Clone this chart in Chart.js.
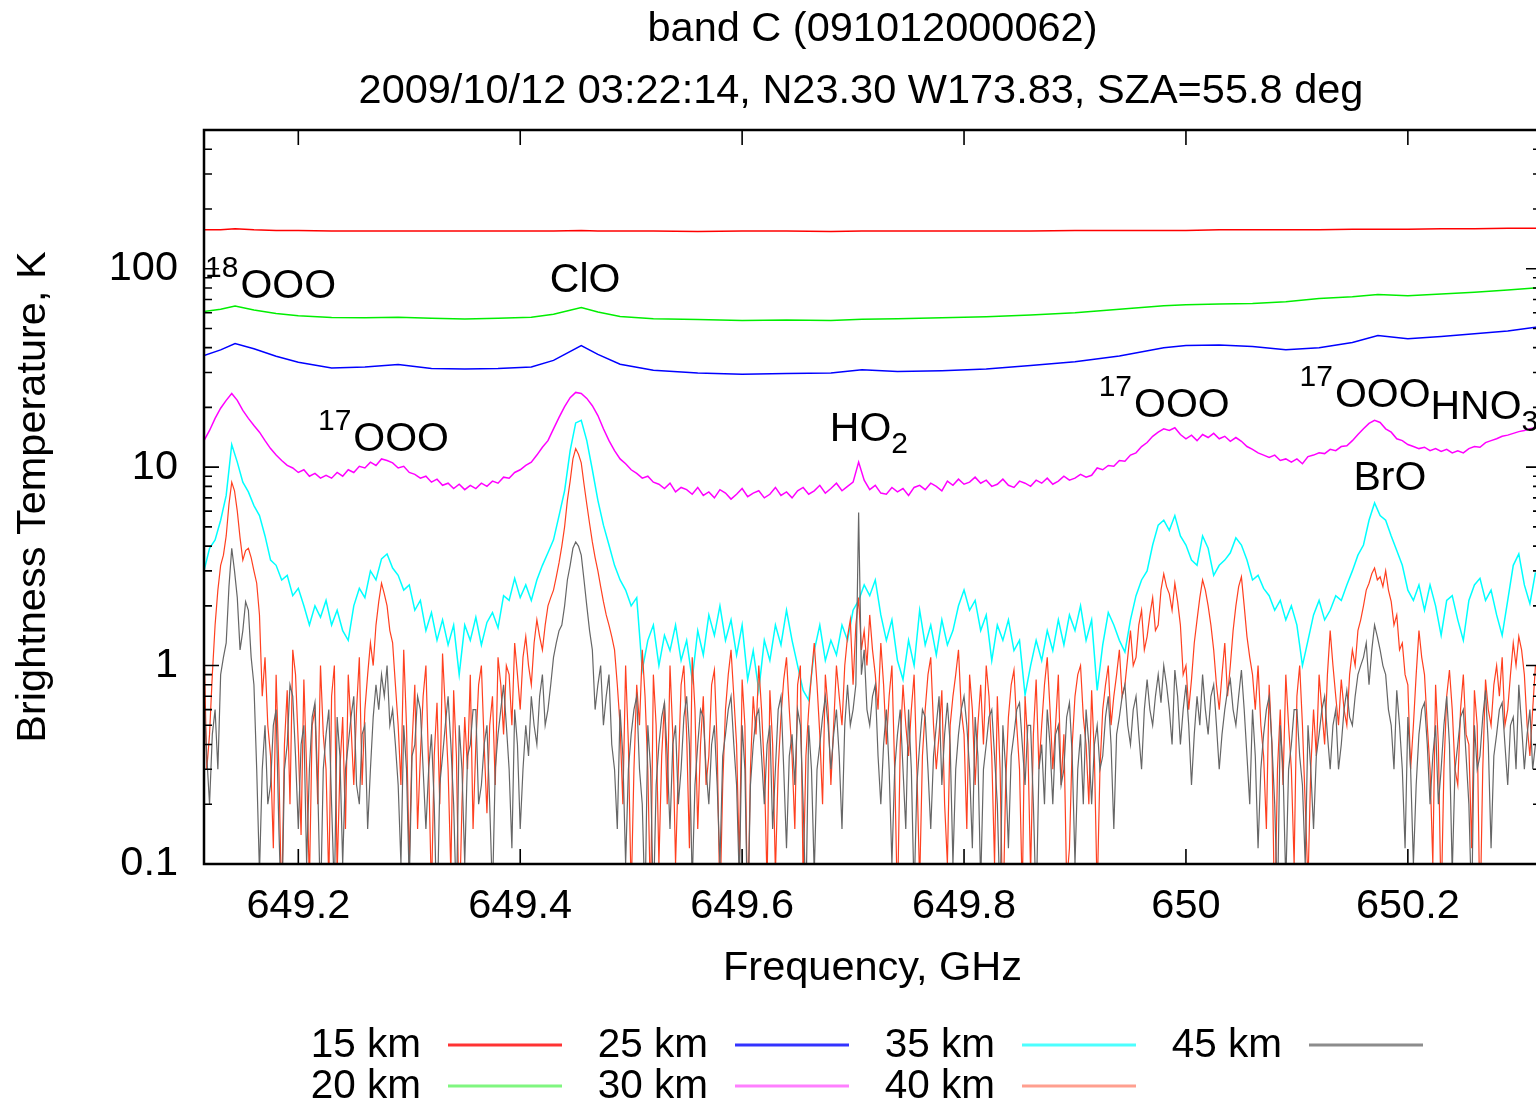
<!DOCTYPE html>
<html>
<head>
<meta charset="utf-8">
<script src="https://cdn.jsdelivr.net/npm/chart.js@4.4.1/dist/chart.umd.min.js"></script>
<style>
  html, body { margin: 0; padding: 0; background: #fff; overflow: hidden; }
  canvas { display: block; }
</style>
</head>
<body>
<canvas id="myChart" width="1545" height="1102"></canvas>
<script>
// frequency channels (GHz), 5 MHz spacing
const freqFine = [
  649.115,649.120,649.125,649.130,649.135,649.140,649.145,649.150,649.155,649.160,
  649.165,649.170,649.175,649.180,649.185,649.190,649.195,649.200,649.205,649.210,
  649.215,649.220,649.225,649.230,649.235,649.240,649.245,649.250,649.255,649.260,
  649.265,649.270,649.275,649.280,649.285,649.290,649.295,649.300,649.305,649.310,
  649.315,649.320,649.325,649.330,649.335,649.340,649.345,649.350,649.355,649.360,
  649.365,649.370,649.375,649.380,649.385,649.390,649.395,649.400,649.405,649.410,
  649.415,649.420,649.425,649.430,649.435,649.440,649.445,649.450,649.455,649.460,
  649.465,649.470,649.475,649.480,649.485,649.490,649.495,649.500,649.505,649.510,
  649.515,649.520,649.525,649.530,649.535,649.540,649.545,649.550,649.555,649.560,
  649.565,649.570,649.575,649.580,649.585,649.590,649.595,649.600,649.605,649.610,
  649.615,649.620,649.625,649.630,649.635,649.640,649.645,649.650,649.655,649.660,
  649.665,649.670,649.675,649.680,649.685,649.690,649.695,649.700,649.705,649.710,
  649.715,649.720,649.725,649.730,649.735,649.740,649.745,649.750,649.755,649.760,
  649.765,649.770,649.775,649.780,649.785,649.790,649.795,649.800,649.805,649.810,
  649.815,649.820,649.825,649.830,649.835,649.840,649.845,649.850,649.855,649.860,
  649.865,649.870,649.875,649.880,649.885,649.890,649.895,649.900,649.905,649.910,
  649.915,649.920,649.925,649.930,649.935,649.940,649.945,649.950,649.955,649.960,
  649.965,649.970,649.975,649.980,649.985,649.990,649.995,650.000,650.005,650.010,
  650.015,650.020,650.025,650.030,650.035,650.040,650.045,650.050,650.055,650.060,
  650.065,650.070,650.075,650.080,650.085,650.090,650.095,650.100,650.105,650.110,
  650.115,650.120,650.125,650.130,650.135,650.140,650.145,650.150,650.155,650.160,
  650.165,650.170,650.175,650.180,650.185,650.190,650.195,650.200,650.205,650.210,
  650.215,650.220,650.225,650.230,650.235,650.240,650.245,650.250,650.255,650.260,
  650.265,650.270,650.275,650.280,650.285,650.290,650.295,650.300,650.305,650.310,
  650.315
];

// frequency channels (GHz), 2.5 MHz spacing, for the noisiest spectra
const freqHalf = [
  649.1150,649.1175,649.1200,649.1225,649.1250,649.1275,649.1300,649.1325,649.1350,649.1375,649.1400,649.1425,649.1450,649.1475,649.1500,649.1525,649.1550,649.1575,649.1600,649.1625,
  649.1650,649.1675,649.1700,649.1725,649.1750,649.1775,649.1800,649.1825,649.1850,649.1875,649.1900,649.1925,649.1950,649.1975,649.2000,649.2025,649.2050,649.2075,649.2100,649.2125,
  649.2150,649.2175,649.2200,649.2225,649.2250,649.2275,649.2300,649.2325,649.2350,649.2375,649.2400,649.2425,649.2450,649.2475,649.2500,649.2525,649.2550,649.2575,649.2600,649.2625,
  649.2650,649.2675,649.2700,649.2725,649.2750,649.2775,649.2800,649.2825,649.2850,649.2875,649.2900,649.2925,649.2950,649.2975,649.3000,649.3025,649.3050,649.3075,649.3100,649.3125,
  649.3150,649.3175,649.3200,649.3225,649.3250,649.3275,649.3300,649.3325,649.3350,649.3375,649.3400,649.3425,649.3450,649.3475,649.3500,649.3525,649.3550,649.3575,649.3600,649.3625,
  649.3650,649.3675,649.3700,649.3725,649.3750,649.3775,649.3800,649.3825,649.3850,649.3875,649.3900,649.3925,649.3950,649.3975,649.4000,649.4025,649.4050,649.4075,649.4100,649.4125,
  649.4150,649.4175,649.4200,649.4225,649.4250,649.4275,649.4300,649.4325,649.4350,649.4375,649.4400,649.4425,649.4450,649.4475,649.4500,649.4525,649.4550,649.4575,649.4600,649.4625,
  649.4650,649.4675,649.4700,649.4725,649.4750,649.4775,649.4800,649.4825,649.4850,649.4875,649.4900,649.4925,649.4950,649.4975,649.5000,649.5025,649.5050,649.5075,649.5100,649.5125,
  649.5150,649.5175,649.5200,649.5225,649.5250,649.5275,649.5300,649.5325,649.5350,649.5375,649.5400,649.5425,649.5450,649.5475,649.5500,649.5525,649.5550,649.5575,649.5600,649.5625,
  649.5650,649.5675,649.5700,649.5725,649.5750,649.5775,649.5800,649.5825,649.5850,649.5875,649.5900,649.5925,649.5950,649.5975,649.6000,649.6025,649.6050,649.6075,649.6100,649.6125,
  649.6150,649.6175,649.6200,649.6225,649.6250,649.6275,649.6300,649.6325,649.6350,649.6375,649.6400,649.6425,649.6450,649.6475,649.6500,649.6525,649.6550,649.6575,649.6600,649.6625,
  649.6650,649.6675,649.6700,649.6725,649.6750,649.6775,649.6800,649.6825,649.6850,649.6875,649.6900,649.6925,649.6950,649.6975,649.7000,649.7025,649.7050,649.7075,649.7100,649.7125,
  649.7150,649.7175,649.7200,649.7225,649.7250,649.7275,649.7300,649.7325,649.7350,649.7375,649.7400,649.7425,649.7450,649.7475,649.7500,649.7525,649.7550,649.7575,649.7600,649.7625,
  649.7650,649.7675,649.7700,649.7725,649.7750,649.7775,649.7800,649.7825,649.7850,649.7875,649.7900,649.7925,649.7950,649.7975,649.8000,649.8025,649.8050,649.8075,649.8100,649.8125,
  649.8150,649.8175,649.8200,649.8225,649.8250,649.8275,649.8300,649.8325,649.8350,649.8375,649.8400,649.8425,649.8450,649.8475,649.8500,649.8525,649.8550,649.8575,649.8600,649.8625,
  649.8650,649.8675,649.8700,649.8725,649.8750,649.8775,649.8800,649.8825,649.8850,649.8875,649.8900,649.8925,649.8950,649.8975,649.9000,649.9025,649.9050,649.9075,649.9100,649.9125,
  649.9150,649.9175,649.9200,649.9225,649.9250,649.9275,649.9300,649.9325,649.9350,649.9375,649.9400,649.9425,649.9450,649.9475,649.9500,649.9525,649.9550,649.9575,649.9600,649.9625,
  649.9650,649.9675,649.9700,649.9725,649.9750,649.9775,649.9800,649.9825,649.9850,649.9875,649.9900,649.9925,649.9950,649.9975,650.0000,650.0025,650.0050,650.0075,650.0100,650.0125,
  650.0150,650.0175,650.0200,650.0225,650.0250,650.0275,650.0300,650.0325,650.0350,650.0375,650.0400,650.0425,650.0450,650.0475,650.0500,650.0525,650.0550,650.0575,650.0600,650.0625,
  650.0650,650.0675,650.0700,650.0725,650.0750,650.0775,650.0800,650.0825,650.0850,650.0875,650.0900,650.0925,650.0950,650.0975,650.1000,650.1025,650.1050,650.1075,650.1100,650.1125,
  650.1150,650.1175,650.1200,650.1225,650.1250,650.1275,650.1300,650.1325,650.1350,650.1375,650.1400,650.1425,650.1450,650.1475,650.1500,650.1525,650.1550,650.1575,650.1600,650.1625,
  650.1650,650.1675,650.1700,650.1725,650.1750,650.1775,650.1800,650.1825,650.1850,650.1875,650.1900,650.1925,650.1950,650.1975,650.2000,650.2025,650.2050,650.2075,650.2100,650.2125,
  650.2150,650.2175,650.2200,650.2225,650.2250,650.2275,650.2300,650.2325,650.2350,650.2375,650.2400,650.2425,650.2450,650.2475,650.2500,650.2525,650.2550,650.2575,650.2600,650.2625,
  650.2650,650.2675,650.2700,650.2725,650.2750,650.2775,650.2800,650.2825,650.2850,650.2875,650.2900,650.2925,650.2950,650.2975,650.3000,650.3025,650.3050,650.3075,650.3100,650.3125,
  650.3150
];

// frequencies used for the smooth low altitude spectra
const freqSmooth = [
  649.115,649.13,649.143,649.16,649.18,649.20,649.23,649.26,649.29,649.32,
  649.35,649.38,649.41,649.43,649.455,649.47,649.49,649.52,649.56,649.60,
  649.64,649.68,649.708,649.74,649.78,649.82,649.86,649.90,649.94,649.98,
  650.00,650.03,650.06,650.09,650.12,650.15,650.173,650.20,650.23,650.26,
  650.29,650.32
];

// brightness temperature, K
const tb15 = [
  157,157,159,157,156,156,155,155,155,155,
  155,155,155,155,156,155,155,155,154,155,
  155,154,155,155,155,155,155,156,156,156,
  156,157,157,157,157,158,158,158,159,159,
  160,160
];
const tb20 = [
  60.8,62.5,64.8,62.0,59.5,58.0,56.8,56.6,57.0,56.2,
  55.8,56.2,57.0,59.0,63.7,60.5,57.5,56.0,55.4,54.8,
  55.2,54.9,55.6,56.0,56.6,57.2,58.4,60.0,62.5,65.1,
  65.9,66.3,66.7,68.2,70.8,72.3,74.2,73.1,74.6,76.0,
  78.0,80.3
];
const tb25 = [
  36.5,39.0,42.0,39.5,36.2,33.8,31.6,32.0,32.9,31.4,
  31.2,31.4,32.0,34.5,41.0,37.0,33.0,30.8,29.8,29.4,
  29.6,29.8,31.0,30.3,30.6,31.2,32.5,34.0,36.3,40.0,
  41.0,41.3,40.5,39.0,40.0,42.5,46.0,44.3,45.5,47.0,
  48.6,51.1
];
const tb30 = [
  13.6,15.3,17.6,19.8,21.7,23.5,21.7,19.3,17.6,16.2,
  15.0,13.6,12.4,11.5,10.8,10.2,9.9,9.4,9.7,9.0,
  9.3,8.8,9.1,8.8,9.4,9.0,9.7,9.4,10.1,9.9,
  10.6,10.2,11.0,10.8,10.5,9.9,10.1,9.4,9.2,8.8,
  9.0,8.4,8.7,8.1,8.3,7.8,8.2,7.7,8.1,7.8,
  8.3,8.0,8.5,8.3,8.9,8.8,9.4,9.7,10.2,10.6,
  11.5,12.6,13.6,15.6,17.8,20.2,22.4,23.8,23.5,22.2,
  20.4,18.2,15.6,13.6,12.1,11.0,10.4,9.7,9.3,8.8,
  9.0,8.4,8.2,7.8,8.3,7.5,7.9,7.7,7.3,7.9,
  7.2,7.5,7.0,7.7,7.4,6.9,7.3,7.8,7.1,7.4,
  7.6,7.0,7.3,7.9,7.2,7.5,7.0,7.6,7.9,7.3,
  7.6,8.1,7.4,7.8,8.3,7.6,8.0,8.4,10.6,8.6,
  7.7,8.1,7.4,7.3,7.9,7.5,7.8,7.2,7.9,8.1,
  7.7,8.3,8.0,7.6,8.5,8.1,8.7,8.2,8.4,8.9,
  8.3,8.6,8.0,8.2,8.7,8.1,7.9,8.5,8.3,8.0,
  8.6,8.3,8.8,8.2,8.5,9.0,8.6,8.8,9.2,8.9,
  9.1,9.9,9.7,10.2,10.1,10.8,10.7,11.5,11.8,12.7,
  13.3,14.3,15.0,15.6,15.3,15.8,14.6,13.9,14.5,13.6,
  14.6,14.1,14.8,13.9,14.3,13.5,14.1,13.5,12.7,12.3,
  11.8,11.5,11.2,11.5,10.8,11.0,10.6,11.0,10.4,11.3,
  11.5,11.8,11.7,12.3,12.1,12.7,12.8,13.6,14.6,15.6,
  16.6,17.2,16.8,15.6,15.0,13.9,13.6,13.0,12.7,12.4,
  12.6,12.1,12.4,12.0,12.3,11.8,12.1,11.8,12.4,12.7,
  12.6,13.3,13.6,13.9,14.3,14.5,14.8,15.1,15.3,15.6,
  15.8
];
const tb35 = [
  3.0,3.9,4.3,5.4,7.2,13.0,10.6,8.4,7.5,6.4,
  5.7,4.5,3.4,3.2,2.7,2.85,2.25,2.45,2.0,1.6,
  2.0,1.75,2.13,1.6,1.9,1.5,1.34,2.0,2.45,2.2,
  3.0,2.7,3.45,3.65,3.1,2.85,2.4,2.55,1.9,2.13,
  1.5,1.85,1.34,1.7,1.27,1.6,0.9,1.6,1.34,1.75,
  1.27,1.65,1.85,1.55,2.25,2.13,2.75,2.2,2.55,2.13,
  2.7,3.2,3.7,4.3,5.7,7.6,12.1,16.7,17.2,13.6,
  9.7,6.8,5.1,4.05,3.2,2.7,2.4,2.0,2.2,0.95,
  1.34,1.6,1.0,1.42,1.19,1.6,1.06,1.34,0.85,1.5,
  1.13,1.8,1.42,2.0,1.34,1.7,1.13,1.6,0.85,1.19,
  0.75,1.34,1.06,1.6,1.27,1.9,1.34,1.0,0.75,0.67,
  1.19,1.6,1.06,1.34,1.13,1.6,1.34,1.9,2.13,2.55,
  2.25,2.7,1.8,1.34,1.7,1.06,0.85,1.34,1.0,1.9,
  1.27,1.6,1.13,1.7,1.27,1.5,2.0,2.4,1.9,2.13,
  1.5,1.8,1.06,1.6,1.34,1.7,1.19,1.34,0.71,1.0,
  1.34,1.06,1.5,1.19,1.7,1.27,1.8,1.5,2.0,1.34,
  1.7,0.75,1.27,1.85,1.6,1.34,1.17,1.7,2.25,2.7,
  3.0,4.05,5.1,5.4,4.8,5.7,4.5,4.05,3.4,3.2,
  4.5,3.9,2.85,3.2,3.4,3.7,4.4,4.05,3.4,2.7,
  2.85,2.45,2.25,1.9,2.13,1.7,2.0,1.6,1.0,1.34,
  1.8,2.13,1.7,1.9,2.25,2.13,2.55,3.0,3.6,4.05,
  5.4,6.6,5.7,5.4,4.5,3.8,3.2,2.4,2.13,2.55,
  1.9,2.55,2.0,1.42,2.13,2.25,1.7,1.34,2.13,2.55,
  2.75,2.13,2.4,1.8,1.42,2.13,3.2,3.65,2.55,2.05,
  2.95
];
const tb40 = [
  1.3,0.3,0.45,0.9,1.6,2.4,3.2,3.6,4.5,6.5,8.4,7.6,6.0,4.4,3.4,3.8,3.9,3.5,3.0,2.6,
  1.8,0.7,1.1,0.5,0.35,0.12,0.9,0.3,0.06,0.4,0.75,0.2,1.2,0.9,0.4,0.14,0.85,0.3,0.08,0.5,
  0.6,0.2,1.0,0.45,0.3,0.08,0.7,1.0,0.09,0.3,0.55,0.15,0.9,0.5,0.25,0.6,1.1,0.25,0.6,0.9,
  1.3,1.0,1.6,2.1,2.6,2.3,2.0,1.5,1.3,0.8,0.5,0.25,1.2,0.5,0.1,0.4,0.8,0.15,0.35,0.7,
  1.0,0.3,0.07,0.35,0.65,0.2,1.15,0.6,0.3,0.09,0.75,0.35,0.05,0.2,0.55,0.3,0.9,0.15,0.4,0.8,
  1.0,0.4,0.18,0.5,0.7,0.25,1.1,0.8,0.45,1.0,0.9,0.5,1.3,0.9,0.6,1.1,1.4,1.0,0.8,1.3,
  1.7,1.4,1.2,1.6,2.0,2.2,2.4,2.8,3.3,4.0,5.0,6.8,8.5,11.0,12.4,11.6,10.5,8.2,6.5,5.2,
  4.2,3.5,3.0,2.5,2.1,1.8,1.6,1.4,1.2,0.8,0.5,0.2,1.0,0.4,0.07,0.3,0.8,0.5,1.2,0.7,
  0.3,0.06,0.9,0.5,0.1,0.35,0.65,0.2,1.0,0.45,0.1,0.3,0.8,1.0,0.45,0.12,1.1,0.6,0.15,0.4,
  0.7,0.25,0.35,0.8,0.95,0.4,0.06,0.25,0.6,0.9,1.2,0.7,0.4,0.1,0.85,0.5,0.05,0.3,0.7,0.45,
  1.0,0.6,0.3,0.08,0.75,0.4,0.09,0.3,0.55,0.85,1.1,0.6,0.35,0.15,0.8,1.0,0.08,0.35,0.6,0.9,
  1.3,0.8,0.45,0.2,0.9,0.6,0.25,0.5,1.0,0.7,0.5,1.0,1.4,1.7,0.8,1.6,2.2,1.2,1.5,1.0,
  1.8,1.2,0.9,0.6,1.3,0.8,0.4,0.7,1.0,0.3,0.06,0.4,0.8,0.5,0.35,0.6,0.9,0.3,0.08,0.35,
  0.6,0.9,1.1,0.5,0.3,0.45,0.75,0.2,0.1,0.5,0.7,0.9,1.2,0.6,0.45,0.15,0.9,0.6,0.25,0.5,
  0.8,0.4,1.0,0.7,0.35,0.1,0.7,0.3,0.05,0.25,0.55,0.8,0.95,0.5,0.3,0.07,0.7,0.4,0.09,0.45,
  0.85,0.3,0.5,0.8,1.1,0.6,0.3,0.5,0.9,0.25,0.45,0.08,0.12,0.4,0.7,0.9,1.0,0.55,0.4,0.2,
  0.75,0.35,0.07,0.3,0.6,0.8,1.0,0.5,0.7,0.9,1.2,0.7,0.8,1.1,1.5,1.0,1.1,1.6,1.9,1.2,
  1.4,1.8,2.2,1.5,1.6,2.4,2.9,2.5,2.3,1.9,2.6,2.1,1.6,0.9,1.0,0.6,0.85,1.3,1.7,2.2,
  2.7,2.4,2.0,1.6,1.2,0.8,0.6,0.9,1.3,0.7,1.0,1.5,2.0,2.5,2.8,2.0,1.4,1.1,0.9,0.6,
  1.0,0.5,0.35,0.15,0.8,0.4,0.05,0.3,0.6,0.25,0.9,0.5,0.3,0.1,0.7,1.0,0.5,0.2,0.08,0.3,
  0.6,0.35,0.9,0.6,0.4,0.9,1.5,1.0,0.7,0.5,0.85,0.6,0.5,0.9,1.2,1.0,1.5,1.7,2.0,2.4,
  2.6,2.9,3.1,2.7,2.8,2.5,3.0,2.4,2.1,1.6,1.8,1.2,1.3,0.9,0.8,0.3,0.5,0.9,1.5,1.1,
  0.9,0.5,0.3,0.1,0.8,0.4,0.06,0.3,0.7,0.95,0.6,0.3,0.25,0.6,0.9,0.45,0.4,0.12,0.75,0.5,
  0.05,0.3,0.85,0.6,0.5,0.8,1.0,0.7,1.1,0.5,0.6,0.9,1.3,1.0,1.4,1.2,0.9,0.5,0.35,0.6,
  1.0
];
const tb45 = [
  0.7,0.35,0.2,0.45,0.6,0.3,0.9,1.1,1.3,2.5,3.9,3.0,2.2,1.2,1.5,2.1,1.9,1.1,0.8,0.3,
  0.09,0.3,0.5,0.2,0.25,0.5,0.6,0.15,0.05,0.3,0.4,0.8,0.7,0.35,0.15,0.4,0.5,0.1,0.3,0.55,
  0.65,0.25,0.06,0.3,0.45,0.6,0.2,0.07,0.55,0.35,0.1,0.3,0.4,0.55,0.7,0.25,0.2,0.45,0.5,0.15,
  0.3,0.55,0.8,0.6,0.9,0.7,1.0,0.5,0.6,0.4,0.25,0.1,0.5,0.3,0.08,0.35,0.4,0.7,0.6,0.3,
  0.15,0.3,0.45,0.2,0.05,0.25,0.35,0.5,0.7,0.4,0.2,0.06,0.5,0.3,0.1,0.35,0.4,0.6,0.6,0.2,
  0.25,0.4,0.5,0.2,0.07,0.3,0.45,0.6,0.8,0.5,0.3,0.12,0.6,0.4,0.15,0.3,0.5,0.35,0.7,0.5,
  0.4,0.7,0.9,0.5,0.6,0.8,1.1,1.3,1.5,1.6,2.0,2.7,3.2,3.9,4.2,4.0,3.6,2.7,2.0,1.5,
  1.2,0.6,0.8,1.0,0.5,0.7,0.9,0.4,0.3,0.15,0.6,0.35,0.1,0.3,0.45,0.6,0.7,0.3,0.2,0.06,
  0.5,0.3,0.06,0.25,0.4,0.55,0.65,0.35,0.15,0.4,0.5,0.2,0.3,0.55,0.7,0.4,0.08,0.25,0.4,0.6,
  0.55,0.3,0.2,0.4,0.5,0.25,0.1,0.35,0.45,0.6,0.7,0.4,0.25,0.08,0.5,0.3,0.05,0.25,0.4,0.55,
  0.6,0.35,0.2,0.4,0.5,0.15,0.3,0.6,0.7,0.3,0.12,0.35,0.45,0.25,0.6,0.5,0.2,0.06,0.5,0.3,
  0.09,0.3,0.4,0.55,0.7,0.5,0.3,0.45,0.6,0.35,0.15,0.5,0.8,0.5,0.6,0.8,5.9,0.9,1.2,0.6,
  0.5,0.7,0.8,0.35,0.2,0.4,0.6,0.3,0.1,0.3,0.45,0.6,0.3,0.15,0.6,0.3,0.07,0.25,0.4,0.6,
  0.55,0.3,0.15,0.35,0.5,0.7,0.25,0.45,0.65,0.4,0.1,0.3,0.45,0.6,0.7,0.5,0.3,0.12,0.55,0.35,
  0.08,0.3,0.4,0.55,0.6,0.35,0.2,0.06,0.5,0.3,0.12,0.35,0.45,0.6,0.65,0.4,0.25,0.5,0.5,0.2,
  0.06,0.3,0.4,0.2,0.6,0.4,0.2,0.45,0.5,0.25,0.3,0.55,0.65,0.35,0.1,0.3,0.45,0.2,0.6,0.4,
  0.2,0.4,0.5,0.3,0.35,0.55,0.7,0.4,0.15,0.45,0.55,0.7,0.8,0.5,0.4,0.6,0.7,0.45,0.3,0.6,
  0.85,0.6,0.5,0.7,0.9,0.65,1.0,0.8,0.6,0.4,0.95,0.7,0.4,0.6,0.8,0.5,0.25,0.45,0.7,0.5,
  0.9,0.6,0.45,0.7,0.8,0.5,0.3,0.45,0.6,0.75,0.85,0.6,0.5,0.7,0.95,0.6,0.35,0.2,0.6,0.35,
  0.12,0.3,0.45,0.6,0.7,0.4,0.2,0.06,0.5,0.3,0.08,0.3,0.4,0.6,0.6,0.35,0.25,0.1,0.5,0.3,
  0.15,0.35,0.45,0.6,0.7,0.45,0.3,0.5,0.6,0.3,0.4,0.6,0.75,0.55,0.5,0.7,0.9,1.0,1.1,1.3,
  0.8,1.2,1.6,1.4,1.2,1.0,0.9,0.6,0.5,0.3,0.75,0.5,0.3,0.12,0.55,0.3,0.1,0.25,0.45,0.6,
  0.65,0.4,0.2,0.35,0.5,0.2,0.3,0.5,0.7,0.4,0.09,0.3,0.4,0.55,0.6,0.35,0.2,0.06,0.5,0.3,
  0.35,0.55,0.75,0.4,0.12,0.35,0.45,0.6,0.65,0.4,0.25,0.5,0.55,0.3,0.8,0.5,0.3,0.45,0.6,0.3,
  0.4
];

const altitudes = ["15 km", "20 km", "25 km", "30 km", "35 km", "40 km", "45 km"];
const xTicks = [649.2, 649.4, 649.6, 649.8, 650, 650.2];
const yMajor = [0.1, 1, 10, 100];

// line labels (gnuplot style), anchored in data coordinates
const lineLabels = [
  { sup: "18", text: "OOO", f: 649.116, t: 71.5 },
  { text: "ClO", f: 649.4267, t: 76.6 },
  { sup: "17", text: "OOO", f: 649.2177, t: 12.1 },
  { text: "HO", sub: "2", f: 649.679, t: 13.6 },
  { sup: "17", text: "OOO", f: 649.9213, t: 17.8 },
  { sup: "17", text: "OOO", f: 650.1024, t: 20.0 },
  { text: "HNO", sub: "3", f: 650.2204, t: 17.5 },
  { text: "BrO", f: 650.151, t: 7.63 }
];

const FONT = '"Liberation Sans", Arial, sans-serif';
const colors = ["#ff0000", "#00ee00", "#0000ff", "#ff00ff", "#00ffff", "#ff4020", "#666666"];
const legendAlpha = [0.8, 0.5, 0.8, 0.5, 0.7, 0.5, 0.75];

function pts(fs, vs) {
  return fs.map((f, i) => ({ x: f, y: vs[i] }));
}
const series = [
  pts(freqSmooth, tb15), pts(freqSmooth, tb20), pts(freqSmooth, tb25),
  pts(freqFine, tb30), pts(freqFine, tb35), pts(freqHalf, tb40), pts(freqHalf, tb45)
];

const yTickVals = [];
yMajor.forEach(d => {
  for (let m = 1; m <= 9; m++) {
    if (d * m <= 500) yTickVals.push(d * m);
  }
});

const framePlugin = {
  id: "frame",
  afterDraw(chart) {
    const { ctx, chartArea: a, scales: { x, y } } = chart;
    ctx.save();
    ctx.strokeStyle = "#000";
    ctx.lineWidth = 1.6;
    x.ticks.forEach(t => {
      const px = x.getPixelForValue(t.value);
      ctx.beginPath();
      ctx.moveTo(px, a.bottom); ctx.lineTo(px, a.bottom - 15);
      ctx.moveTo(px, a.top); ctx.lineTo(px, a.top + 15);
      ctx.stroke();
    });
    y.ticks.forEach(t => {
      const py = y.getPixelForValue(t.value);
      const len = yMajor.includes(t.value) ? 15 : 8;
      ctx.beginPath();
      ctx.moveTo(a.left, py); ctx.lineTo(a.left + len, py);
      ctx.moveTo(a.right, py); ctx.lineTo(a.right - len, py);
      ctx.stroke();
    });
    ctx.lineWidth = 2.5;
    ctx.strokeRect(a.left, a.top, a.right - a.left, a.bottom - a.top);

    // legend: two rows, filled column by column
    ctx.font = "40.5px " + FONT;
    ctx.textAlign = "right";
    ctx.textBaseline = "middle";
    chart.data.datasets.forEach((ds, i) => {
      const col = Math.floor(i / 2), row = i % 2;
      const lx = 421 + col * 287, ly = 1046 + row * 41;
      ctx.fillStyle = "#000";
      ctx.fillText(ds.label, lx, ly);
      ctx.globalAlpha = legendAlpha[i];
      ctx.strokeStyle = ds.borderColor;
      ctx.lineWidth = 3;
      ctx.beginPath();
      ctx.moveTo(lx + 27, ly - 1); ctx.lineTo(lx + 141, ly - 1);
      ctx.stroke();
      ctx.globalAlpha = 1;
    });
    ctx.restore();
  },
  afterDatasetsDraw(chart) {
    const { ctx, scales: { x, y } } = chart;
    ctx.save();
    ctx.fillStyle = "#000";
    ctx.textAlign = "left";
    ctx.textBaseline = "alphabetic";
    lineLabels.forEach(l => {
      let px = x.getPixelForValue(l.f);
      const py = y.getPixelForValue(l.t);
      if (l.sup) {
        ctx.font = "30px " + FONT;
        ctx.fillText(l.sup, px, py - 21);
        px += ctx.measureText(l.sup).width + 2;
      }
      ctx.font = "41px " + FONT;
      ctx.fillText(l.text, px, py);
      px += ctx.measureText(l.text).width;
      if (l.sub) {
        ctx.font = "30px " + FONT;
        ctx.fillText(l.sub, px, py + 12);
      }
    });
    ctx.restore();
  }
};

new Chart("myChart", {
  type: "line",
  data: {
    datasets: altitudes.map((name, i) => ({
      label: name,
      data: series[i],
      borderColor: colors[i],
      borderWidth: i >= 5 ? 1.2 : 1.5,
      pointRadius: 0,
      tension: 0,
      fill: false,
      order: 6 - i
    }))
  },
  options: {
    responsive: false,
    animation: false,
    devicePixelRatio: 1,
    layout: { padding: { left: 0, right: 4, top: 0, bottom: 98 } },
    font: { family: FONT, size: 41.5 },
    plugins: {
      legend: { display: false },
      tooltip: { enabled: false },
      title: {
        display: true,
        fullSize: false,
        text: ["band C (091012000062)", "2009/10/12 03:22:14, N23.30 W173.83, SZA=55.8 deg  "],
        color: "#000",
        font: { family: FONT, size: 41.5, weight: "normal", lineHeight: 1.5 },
        padding: { top: -2, bottom: 7.5 }
      }
    },
    scales: {
      x: {
        type: "linear",
        min: 649.115,
        max: 650.32,
        afterBuildTicks: s => { s.ticks = xTicks.map(v => ({ value: v })); },
        afterFit: s => { s.height = 140; },
        grid: { display: false, drawTicks: false },
        border: { display: false },
        ticks: {
          autoSkip: false, maxRotation: 0, padding: 18, color: "#000",
          font: { family: FONT, size: 41.5 },
          callback: v => String(v)
        },
        title: {
          display: true, text: "Frequency, GHz", color: "#000",
          font: { family: FONT, size: 41.5 },
          padding: { top: 0, bottom: 11 }
        }
      },
      y: {
        type: "logarithmic",
        min: 0.1,
        max: 500,
        afterBuildTicks: s => { s.ticks = yTickVals.map(v => ({ value: v })); },
        afterFit: s => { s.width = 204; },
        grid: { display: false, drawTicks: false },
        border: { display: false },
        ticks: {
          autoSkip: false, padding: 26, color: "#000",
          font: { family: FONT, size: 41.5 },
          callback: v => yMajor.includes(v) ? String(v) : ""
        },
        title: {
          display: true, text: "Brightness Temperature, K", color: "#000",
          font: { family: FONT, size: 41.5 },
          padding: { top: 9, bottom: 0 }
        }
      }
    }
  },
  plugins: [framePlugin]
});
</script>
</body>
</html>
